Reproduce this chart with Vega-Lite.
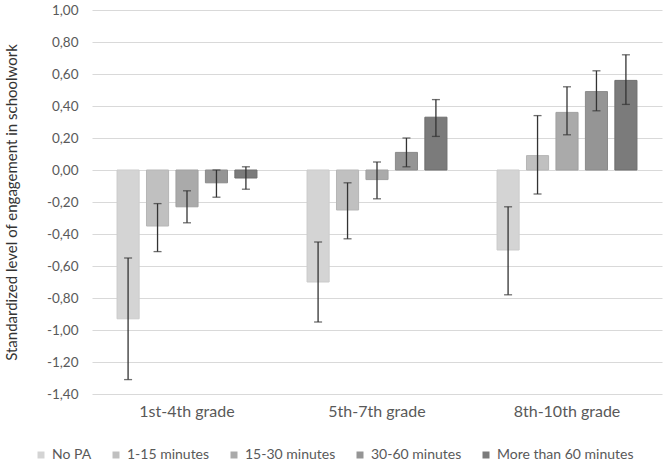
{
  "$schema": "https://vega.github.io/schema/vega-lite/v6.json",
  "width": 570,
  "height": 384,
  "autosize": "none",
  "padding": {"left": 92, "top": 10, "right": 7, "bottom": 71},
  "background": "white",
  "config": {"font": "Lato", "view": {"stroke": null}, "axis": {"labelOverlap": false}},
  "resolve": {"axis": {"y": "independent"}},
  "data": {
    "values": [
      {"grade": "1st-4th grade", "series": "No PA", "value": -0.93, "lo": -1.31, "hi": -0.55},
      {"grade": "1st-4th grade", "series": "1-15 minutes", "value": -0.35, "lo": -0.51, "hi": -0.21},
      {"grade": "1st-4th grade", "series": "15-30 minutes", "value": -0.23, "lo": -0.33, "hi": -0.13},
      {"grade": "1st-4th grade", "series": "30-60 minutes", "value": -0.08, "lo": -0.17, "hi": 0.0},
      {"grade": "1st-4th grade", "series": "More than 60 minutes", "value": -0.05, "lo": -0.12, "hi": 0.02},
      {"grade": "5th-7th grade", "series": "No PA", "value": -0.70, "lo": -0.95, "hi": -0.45},
      {"grade": "5th-7th grade", "series": "1-15 minutes", "value": -0.25, "lo": -0.43, "hi": -0.08},
      {"grade": "5th-7th grade", "series": "15-30 minutes", "value": -0.06, "lo": -0.18, "hi": 0.05},
      {"grade": "5th-7th grade", "series": "30-60 minutes", "value": 0.11, "lo": 0.02, "hi": 0.20},
      {"grade": "5th-7th grade", "series": "More than 60 minutes", "value": 0.33, "lo": 0.21, "hi": 0.44},
      {"grade": "8th-10th grade", "series": "No PA", "value": -0.50, "lo": -0.78, "hi": -0.23},
      {"grade": "8th-10th grade", "series": "1-15 minutes", "value": 0.09, "lo": -0.15, "hi": 0.34},
      {"grade": "8th-10th grade", "series": "15-30 minutes", "value": 0.36, "lo": 0.22, "hi": 0.52},
      {"grade": "8th-10th grade", "series": "30-60 minutes", "value": 0.49, "lo": 0.37, "hi": 0.62},
      {"grade": "8th-10th grade", "series": "More than 60 minutes", "value": 0.56, "lo": 0.41, "hi": 0.72}
    ]
  },
  "encoding": {
    "x": {
      "field": "grade", "type": "nominal",
      "sort": ["1st-4th grade", "5th-7th grade", "8th-10th grade"],
      "scale": {"paddingInner": 0, "paddingOuter": 0},
      "axis": {"title": null, "labelAngle": 0, "domain": false, "ticks": false, "labelPadding": 9, "labelFontSize": 16, "labelColor": "#595959", "labelFont": "Lato"}
    },
    "xOffset": {
      "field": "series", "type": "nominal",
      "sort": ["No PA", "1-15 minutes", "15-30 minutes", "30-60 minutes", "More than 60 minutes"],
      "scale": {"paddingInner": 0.25, "paddingOuter": 0.85}
    }
  },
  "layer": [
    {
      "mark": {"type": "bar", "strokeWidth": 1},
      "encoding": {
        "y": {
          "field": "value", "type": "quantitative",
          "scale": {"domain": [-1.4, 1.0], "nice": false, "zero": true},
          "axis": {
            "title": "Standardized level of engagement in schoolwork",
            "titleFontSize": 15, "titleFontWeight": "normal", "titleColor": "#333333", "titleFont": "Lato",
            "titlePadding": 27,
            "values": [-1.4, -1.2, -1.0, -0.8, -0.6, -0.4, -0.2, 0, 0.2, 0.4, 0.6, 0.8, 1.0],
            "format": ".2f",
            "labelExpr": "replace(replace(datum.label, '.', ','), '\u2212', '-')",
            "labelOverlap": false,
            "domain": false, "ticks": false, "labelPadding": 14,
            "labelFontSize": 13.5, "labelColor": "#595959",
            "grid": true, "gridColor": "#d9d9d9", "gridWidth": 1
          }
        },
        "color": {
          "field": "series", "type": "nominal",
          "sort": ["No PA", "1-15 minutes", "15-30 minutes", "30-60 minutes", "More than 60 minutes"],
          "scale": {"range": ["#d4d4d4", "#c0c0c0", "#aaaaaa", "#959595", "#7b7b7b"]},
          "legend": {
            "title": null, "orient": "none", "direction": "horizontal",
            "legendX": -58, "legendY": 438,
            "symbolType": "square", "symbolSize": 49, "symbolStrokeWidth": 0,
            "labelFontSize": 14, "labelColor": "#595959", "labelFont": "Lato",
            "columnPadding": 17, "labelOffset": 4
          }
        },
        "stroke": {
          "field": "series", "type": "nominal",
          "sort": ["No PA", "1-15 minutes", "15-30 minutes", "30-60 minutes", "More than 60 minutes"],
          "scale": {"range": ["#cbcbcb", "#b6b6b6", "#a0a0a0", "#8a8a8a", "#6e6e6e"]},
          "legend": null
        }
      }
    },
    {
      "mark": {"type": "rule", "color": "#333333", "strokeWidth": 1.3},
      "encoding": {
        "y": {"field": "lo", "type": "quantitative", "axis": null},
        "y2": {"field": "hi"}
      }
    },
    {
      "mark": {"type": "tick", "color": "#333333", "thickness": 1.3, "size": 8},
      "encoding": {"y": {"field": "lo", "type": "quantitative", "axis": null}}
    },
    {
      "mark": {"type": "tick", "color": "#333333", "thickness": 1.3, "size": 8},
      "encoding": {"y": {"field": "hi", "type": "quantitative", "axis": null}}
    }
  ]
}
